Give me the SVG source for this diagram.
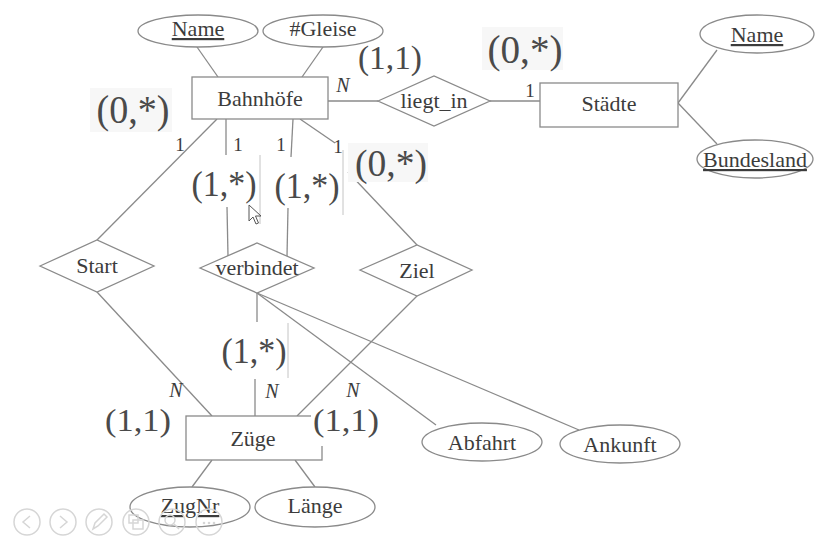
<svg xmlns="http://www.w3.org/2000/svg" width="818" height="537" viewBox="0 0 818 537">
<style>
  .ln{stroke:#8a8a8a;stroke-width:1.3;fill:none}
  .art{stroke:#c4c4c4;stroke-width:1;fill:none}
  .shp{stroke:#8a8a8a;stroke-width:1.3;fill:#ffffff}
  .t{font-family:"Liberation Serif","Times New Roman",serif;font-size:22px;fill:#3c3c3c;text-anchor:middle}
  .u{text-decoration:underline}
  .c{font-family:"Liberation Serif","Times New Roman",serif;fill:#4a4a4a;text-anchor:middle}
  .s{font-family:"Liberation Serif","Times New Roman",serif;font-size:19px;fill:#3c3c3c;text-anchor:middle}
  .n{font-family:"Liberation Serif","Times New Roman",serif;font-size:20px;font-style:italic;fill:#3c3c3c;text-anchor:middle}
  .bg{fill:#f7f7f7}
  .ui{stroke:#d6d6d6;stroke-width:1.5;fill:none}
</style>
<rect x="0" y="0" width="818" height="537" fill="#ffffff"/>

<g id="connectors">
  <line class="ln" x1="197" y1="47" x2="218" y2="77"/>
  <line class="ln" x1="323" y1="47" x2="302" y2="77"/>
  <line class="ln" x1="328" y1="101" x2="378" y2="101"/>
  <line class="ln" x1="490" y1="101" x2="540" y2="101"/>
  <line class="ln" x1="678" y1="103" x2="717" y2="50"/>
  <line class="ln" x1="678" y1="103" x2="717" y2="144"/>
  <line class="ln" x1="217" y1="119" x2="97" y2="240"/>
  <line class="ln" x1="226" y1="119" x2="226" y2="155"/>
  <line class="ln" x1="227" y1="207" x2="228" y2="256"/>
  <line class="ln" x1="293" y1="119" x2="291" y2="157"/>
  <line class="ln" x1="288" y1="208" x2="287" y2="256"/>
  <line class="ln" x1="300" y1="119" x2="335" y2="143"/>
  <line class="ln" x1="348" y1="172" x2="417" y2="245"/>
  <line class="ln" x1="97" y1="292" x2="212" y2="416"/>
  <line class="ln" x1="417" y1="296" x2="297" y2="416"/>
  <line class="ln" x1="257" y1="293" x2="257" y2="322"/>
  <line class="ln" x1="255" y1="379" x2="255" y2="416"/>
  <line class="ln" x1="257" y1="293" x2="436" y2="425"/>
  <line class="ln" x1="257" y1="293" x2="579" y2="430"/>
  <line class="ln" x1="212" y1="460" x2="192" y2="487"/>
  <line class="ln" x1="295" y1="460" x2="315" y2="487"/>
  <line class="art" x1="260" y1="155" x2="260" y2="224"/>
  <line class="art" x1="343" y1="150" x2="343" y2="215"/>
  <line class="art" x1="288" y1="323" x2="288" y2="378"/>
</g>

<g id="bahnhoefe-name">
  <ellipse class="shp" cx="198" cy="31" rx="60" ry="16"/>
  <text class="t u" x="198" y="36">Name</text>
</g>
<g id="bahnhoefe-gleise">
  <ellipse class="shp" cx="323" cy="31" rx="60" ry="16"/>
  <text class="t" x="323" y="36">#Gleise</text>
</g>
<g id="bahnhoefe">
  <rect class="shp" x="192" y="77" width="136" height="42"/>
  <text class="t" x="260" y="106">Bahnhöfe</text>
</g>
<g id="liegt_in">
  <polygon class="shp" points="378,101 434,76 490,101 434,126"/>
  <text class="t" x="434" y="108">liegt_in</text>
</g>
<g id="staedte">
  <rect class="shp" x="540" y="83" width="138" height="44"/>
  <text class="t" x="609" y="111">Städte</text>
</g>
<g id="staedte-name">
  <ellipse class="shp" cx="757" cy="34" rx="57" ry="19"/>
  <text class="t u" x="757" y="42">Name</text>
</g>
<g id="staedte-bundesland">
  <ellipse class="shp" cx="755" cy="159" rx="58" ry="19"/>
  <text class="t u" x="755" y="167">Bundesland</text>
</g>
<g id="start">
  <polygon class="shp" points="40,266 97,240 154,266 97,292"/>
  <text class="t" x="97" y="273">Start</text>
</g>
<g id="verbindet">
  <polygon class="shp" points="200,268 257,243 314,268 257,293"/>
  <text class="t" x="257" y="275">verbindet</text>
</g>
<g id="ziel">
  <polygon class="shp" points="360,270 417,245 472,270 417,296"/>
  <text class="t" x="417" y="278">Ziel</text>
</g>
<g id="zuege">
  <rect class="shp" x="186" y="416" width="136" height="44"/>
  <text class="t" x="253" y="446">Züge</text>
</g>
<g id="zuege-zugnr">
  <ellipse class="shp" cx="190" cy="507" rx="60" ry="20"/>
  <text class="t u" x="190" y="513">ZugNr</text>
</g>
<g id="zuege-laenge">
  <ellipse class="shp" cx="315" cy="507" rx="60" ry="20"/>
  <text class="t" x="315" y="513">Länge</text>
</g>
<g id="abfahrt">
  <ellipse class="shp" cx="482" cy="442" rx="60" ry="19"/>
  <text class="t" x="482" y="450">Abfahrt</text>
</g>
<g id="ankunft">
  <ellipse class="shp" cx="620" cy="444" rx="60" ry="19"/>
  <text class="t" x="620" y="452">Ankunft</text>
</g>

<g id="labels">
  <rect class="bg" x="90" y="88" width="82" height="44"/>
  <rect class="bg" x="348" y="143" width="80" height="39"/>
  <rect class="bg" x="482" y="27" width="81" height="43"/>
  <rect x="311" y="405" width="72" height="41" fill="#ffffff"/>
  <text class="c" x="133" y="123" font-size="40" textLength="73" lengthAdjust="spacingAndGlyphs">(0,*)</text>
  <text class="c" x="391" y="176" font-size="37" textLength="72" lengthAdjust="spacingAndGlyphs">(0,*)</text>
  <text class="c" x="525" y="63" font-size="40" textLength="75" lengthAdjust="spacingAndGlyphs">(0,*)</text>
  <text class="c" x="390" y="69" font-size="33" textLength="64" lengthAdjust="spacingAndGlyphs">(1,1)</text>
  <text class="c" x="224" y="196" font-size="36" textLength="65" lengthAdjust="spacingAndGlyphs">(1,*)</text>
  <text class="c" x="307" y="198" font-size="36" textLength="65" lengthAdjust="spacingAndGlyphs">(1,*)</text>
  <text class="c" x="254" y="363" font-size="36" textLength="65" lengthAdjust="spacingAndGlyphs">(1,*)</text>
  <text class="c" x="138" y="431" font-size="32" textLength="66" lengthAdjust="spacingAndGlyphs">(1,1)</text>
  <text class="c" x="346" y="431" font-size="32" textLength="66" lengthAdjust="spacingAndGlyphs">(1,1)</text>
  <text class="s" x="180" y="151">1</text>
  <text class="s" x="238" y="151">1</text>
  <text class="s" x="281" y="151">1</text>
  <text class="s" x="338" y="153">1</text>
  <text class="s" x="530" y="97">1</text>
  <text class="n" x="343" y="92">N</text>
  <text class="n" x="176" y="397">N</text>
  <text class="n" x="272" y="398">N</text>
  <text class="n" x="353" y="397">N</text>
</g>

<g id="cursor">
  <polygon points="249,205 249,221 253,217 256,224 258.5,223 255.5,216 261,216" fill="#ffffff" stroke="#555555" stroke-width="1"/>
</g>

<g id="toolbar">
  <circle class="ui" cx="27" cy="522" r="13"/>
  <polyline class="ui" points="30,516 23,522 30,528"/>
  <circle class="ui" cx="63" cy="522" r="13"/>
  <polyline class="ui" points="60,516 67,522 60,528"/>
  <circle class="ui" cx="99" cy="522" r="13"/>
  <path class="ui" d="M93,529 L95,523 L104,514 L107,517 L98,526 Z"/>
  <circle class="ui" cx="136" cy="522" r="13"/>
  <rect class="ui" x="129" y="515" width="9" height="8"/>
  <rect class="ui" x="133" y="520" width="10" height="9"/>
  <circle class="ui" cx="172" cy="522" r="13"/>
  <circle class="ui" cx="170" cy="520" r="5"/>
  <line class="ui" x1="174" y1="524" x2="179" y2="529"/>
  <circle class="ui" cx="209" cy="522" r="13"/>
  <circle cx="204" cy="523" r="1.3" fill="#d6d6d6"/>
  <circle cx="209" cy="523" r="1.3" fill="#d6d6d6"/>
  <circle cx="214" cy="523" r="1.3" fill="#d6d6d6"/>
</g>
</svg>
